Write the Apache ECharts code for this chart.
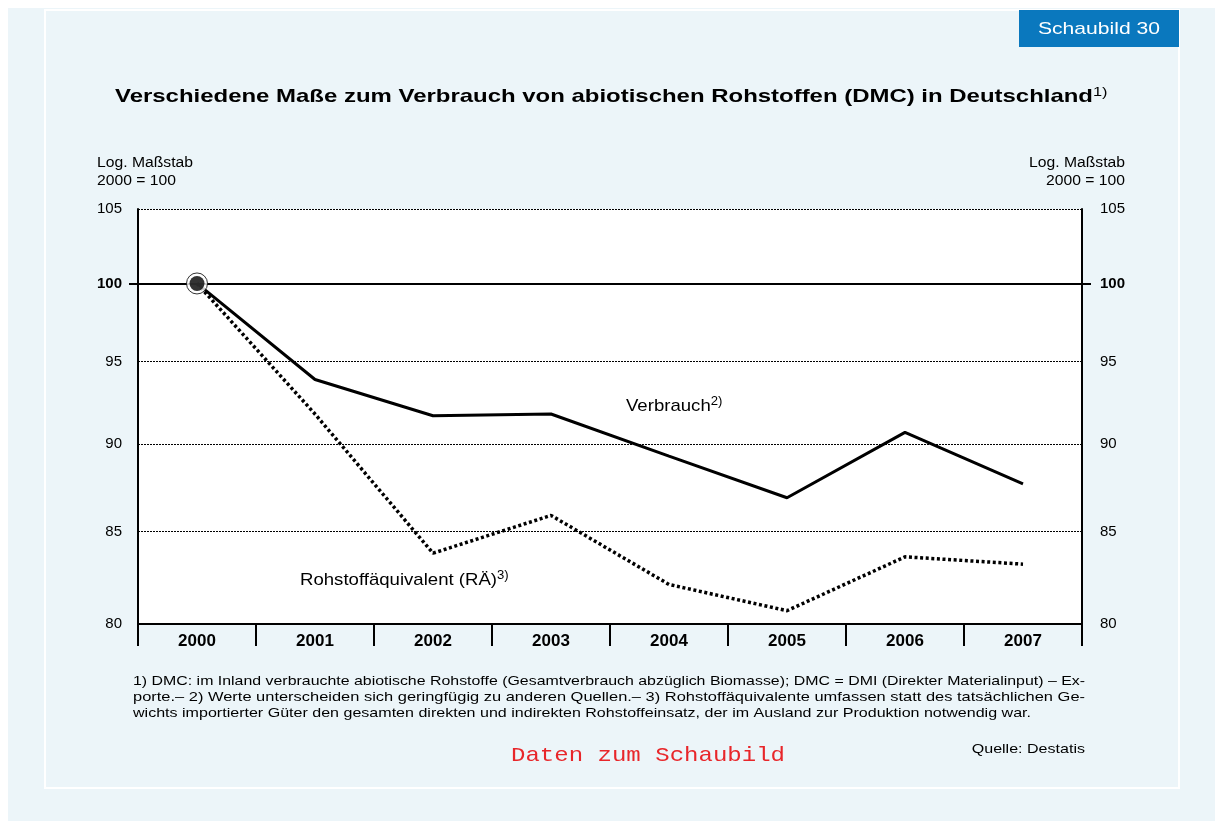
<!DOCTYPE html>
<html>
<head>
<meta charset="utf-8">
<title>Schaubild 30</title>
<script src="https://cdn.jsdelivr.net/npm/echarts@6/dist/echarts.min.js"></script>
<style>
  html, body { margin: 0; padding: 0; background: #ffffff; }
  #chart { width: 1215px; height: 821px; }
</style>
</head>
<body>
<div id="chart"></div>
<script>
// Jahre (Kategorien)
const years = ['2000', '2001', '2002', '2003', '2004', '2005', '2006', '2007'];
// Verbrauch (DMC), 2000 = 100
const verbrauch = [100, 93.9, 91.7, 91.8, 89.3, 86.9, 90.7, 87.7];
// Rohstoffäquivalent (RÄ), 2000 = 100
const rohstoffaequivalent = [100, 91.8, 83.8, 85.9, 82.1, 80.7, 83.6, 83.2];
// Beschriftete Werte der logarithmischen Achse
const yTicks = [80, 85, 90, 95, 100, 105];
// Gepunktete Hilfslinien und Basislinie
const gridValues = [85, 90, 95, 105];
const baseValue = 100;

const titleText = 'Verschiedene Maße zum Verbrauch von abiotischen Rohstoffen (DMC) in Deutschland';
const footnotes = [
  '1) DMC: im Inland verbrauchte abiotische Rohstoffe (Gesamtverbrauch abzüglich Biomasse); DMC = DMI (Direkter Materialinput) – Ex-',
  'porte.– 2) Werte unterscheiden sich geringfügig zu anderen Quellen.– 3) Rohstoffäquivalente umfassen statt des tatsächlichen Ge-',
  'wichts importierter Güter den gesamten direkten und indirekten Rohstoffeinsatz, der im Ausland zur Produktion notwendig war.'
];

const SANS = '"Liberation Sans", Arial, Helvetica, sans-serif';
const MONO = '"Liberation Mono", "Courier New", monospace';

// Textbreite messen, um Schriftzüge horizontal auf eine Zielbreite zu bringen
const measureCtx = document.createElement('canvas').getContext('2d');
function textWidth(text, font) {
  measureCtx.font = font;
  return measureCtx.measureText(text).width;
}
function fitScale(text, font, target) {
  return target / textWidth(text, font);
}

const titleFont = 'bold 19px ' + SANS;
const titleScale = fitScale(titleText, titleFont, 978);
const smallFont = '14px ' + SANS;
const smallScale = fitScale('Log. Maßstab', smallFont, 96);
const labelFont = '17px ' + SANS;
const labelScale = fitScale('Rohstoffäquivalent (RÄ)', labelFont, 197);
const noteFont = '13.5px ' + SANS;
const noteScales = [
  fitScale(footnotes[0], noteFont, 952),
  fitScale(footnotes[1], noteFont, 952),
  fitScale(footnotes[2], noteFont, 898)
];
const monoFont = '21px ' + MONO;
const monoScale = fitScale('Daten zum Schaubild', monoFont, 274);
const badgeFont = '17px ' + SANS;
const badgeScale = fitScale('Schaubild 30', badgeFont, 122);

function plainText(x, y, text, font, scaleX, align, color) {
  return {
    type: 'text', x: x, y: y, scaleX: scaleX, z: 10,
    style: { text: text, x: 0, y: 0, font: font, fill: color || '#000',
             align: align || 'left', verticalAlign: 'middle' }
  };
}
function supText(x, y, main, sup, size, weight, scaleX, align) {
  return {
    type: 'text', x: x, y: y, scaleX: scaleX, z: 10,
    style: {
      text: '{m|' + main + '}{s|' + sup + '}',
      x: 0, y: 0, align: align || 'left', verticalAlign: 'middle',
      rich: {
        m: { fontSize: size, fontWeight: weight, fontFamily: SANS, fill: '#000', lineHeight: size + 4 },
        s: { fontSize: Math.round(size * 0.7), fontFamily: SANS, fill: '#000', verticalAlign: 'top', lineHeight: size + 4 }
      }
    }
  };
}

const chart = echarts.init(document.getElementById('chart'), null, { renderer: 'canvas' });

const yAxisBase = {
  type: 'log',
  logBase: 10,
  min: 80,
  max: 105,
  splitLine: { show: false },
  axisLine: { show: true, lineStyle: { color: '#000', width: 2 } },
  axisTick: { show: true, customValues: [baseValue], length: 9, lineStyle: { color: '#000', width: 2 } },
  axisLabel: {
    customValues: yTicks,
    color: '#000',
    fontSize: 15,
    fontFamily: SANS,
    formatter: function (v) { return Math.round(v) === baseValue ? '{b|' + baseValue + '}' : String(Math.round(v)); },
    rich: { b: { fontSize: 15, fontWeight: 'bold', fontFamily: SANS, color: '#000' } }
  }
};

const option = {
  backgroundColor: '#ffffff',
  animation: false,
  grid: {
    left: 138, right: 133, top: 209, bottom: 197,
    show: true, backgroundColor: '#ffffff', borderWidth: 0
  },
  xAxis: {
    type: 'category',
    data: years,
    boundaryGap: true,
    axisLine: { show: true, lineStyle: { color: '#000', width: 2 } },
    axisTick: { show: true, interval: 0, alignWithLabel: false, length: 22, lineStyle: { color: '#000', width: 2 } },
    axisLabel: { interval: 0, margin: 9, color: '#000', fontSize: 17, fontWeight: 'bold', fontFamily: SANS },
    splitLine: { show: false }
  },
  yAxis: [
    Object.assign({}, yAxisBase, { position: 'left', axisLabel: Object.assign({}, yAxisBase.axisLabel, { margin: 16 }) }),
    Object.assign({}, yAxisBase, { position: 'right', axisLabel: Object.assign({}, yAxisBase.axisLabel, { margin: 18 }) })
  ],
  series: [
    {
      // Hilfslinien im Diagrammfeld
      name: 'Hilfslinien',
      type: 'line',
      data: [],
      z: 1,
      silent: true,
      markLine: {
        silent: true,
        symbol: ['none', 'none'],
        label: { show: false },
        data: gridValues.map(function (v) {
          return { yAxis: v, lineStyle: { color: '#000', width: 1, type: [2, 1] } };
        }).concat([{ yAxis: baseValue, lineStyle: { color: '#000', width: 2, type: 'solid' } }])
      }
    },
    {
      name: 'Verbrauch',
      type: 'line',
      data: verbrauch,
      z: 6,
      symbol: 'none',
      lineStyle: { color: '#000', width: 3, type: 'solid' }
    },
    {
      name: 'Rohstoffäquivalent (RÄ)',
      type: 'line',
      data: rohstoffaequivalent,
      z: 6,
      symbol: 'none',
      lineStyle: { color: '#000', width: 3.5, type: [3, 2.6] }
    },
    {
      // Ring um den Basispunkt 2000 = 100
      name: 'Basis-Ring',
      type: 'scatter',
      data: [[years[0], verbrauch[0]]],
      z: 7,
      symbol: 'circle',
      symbolSize: 21,
      silent: true,
      itemStyle: { color: '#ffffff', borderColor: '#000', borderWidth: 1 }
    },
    {
      name: 'Basis-Punkt',
      type: 'scatter',
      data: [[years[0], verbrauch[0]]],
      z: 8,
      symbol: 'circle',
      symbolSize: 15,
      silent: true,
      itemStyle: { color: '#000' }
    }
  ],
  graphic: [
    { type: 'rect', z: -10, silent: true, shape: { x: 8, y: 8, width: 1207, height: 813 }, style: { fill: '#ecf5f9' } },
    { type: 'rect', z: -9, silent: true, shape: { x: 45, y: 10, width: 1134, height: 778 }, style: { fill: '#ecf5f9', stroke: '#ffffff', lineWidth: 2 } },
    { type: 'rect', z: 5, silent: true, shape: { x: 1019, y: 10, width: 160, height: 37 }, style: { fill: '#0a78be' } },
    plainText(1099, 29, 'Schaubild 30', badgeFont, badgeScale, 'center', '#ffffff'),
    supText(115, 97, titleText, '1)', 19, 'bold', titleScale, 'left'),
    plainText(97, 163, 'Log. Maßstab', smallFont, smallScale, 'left'),
    plainText(97, 181, '2000 = 100', smallFont, smallScale, 'left'),
    plainText(1125, 163, 'Log. Maßstab', smallFont, smallScale, 'right'),
    plainText(1125, 181, '2000 = 100', smallFont, smallScale, 'right'),
    supText(626, 406, 'Verbrauch', '2)', 17, 'normal', labelScale, 'left'),
    supText(300, 580, 'Rohstoffäquivalent (RÄ)', '3)', 17, 'normal', labelScale, 'left'),
    plainText(133, 681, footnotes[0], noteFont, noteScales[0], 'left'),
    plainText(133, 697, footnotes[1], noteFont, noteScales[1], 'left'),
    plainText(133, 713, footnotes[2], noteFont, noteScales[2], 'left'),
    plainText(648, 755, 'Daten zum Schaubild', monoFont, monoScale, 'center', '#e8262a'),
    plainText(1085, 749, 'Quelle: Destatis', noteFont, noteScales[2], 'right')
  ]
};

chart.setOption(option);
</script>
</body>
</html>
